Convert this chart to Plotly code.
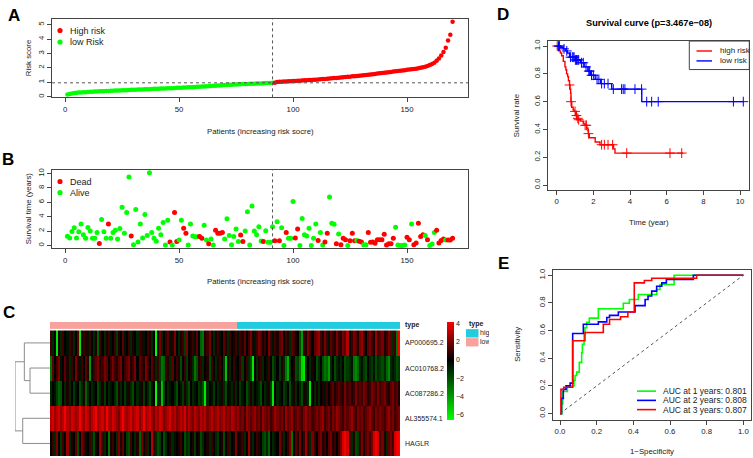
import plotly.graph_objects as go

W, H = 753, 458
def fx(p): return p / W
def fy(p): return 1 - p / H

FONT = "Liberation Sans, Arial, Helvetica, sans-serif"
RED = "#FF0000"; GREEN = "#00FF00"; BLUE = "#0000FF"; AX = "#444444"

# ---------------- data ----------------
risk_low = [0.15, 0.19, 0.22, 0.25, 0.27, 0.28, 0.29, 0.30, 0.31, 0.33,
            0.34, 0.34, 0.35, 0.36, 0.37, 0.38, 0.38, 0.39, 0.40, 0.41,
            0.41, 0.42, 0.43, 0.43, 0.44, 0.45, 0.45, 0.46, 0.47, 0.48,
            0.48, 0.49, 0.50, 0.50, 0.51, 0.52, 0.52, 0.53, 0.54, 0.55,
            0.55, 0.56, 0.57, 0.57, 0.58, 0.59, 0.59, 0.60, 0.61, 0.62,
            0.62, 0.63, 0.64, 0.65, 0.65, 0.66, 0.67, 0.68, 0.69, 0.70,
            0.71, 0.72, 0.73, 0.74, 0.75, 0.76, 0.77, 0.78, 0.79, 0.80,
            0.81, 0.82, 0.83, 0.84, 0.85, 0.86, 0.86, 0.87, 0.88, 0.88,
            0.89, 0.90, 0.90, 0.91, 0.92, 0.92, 0.93, 0.94, 0.95, 0.95,
            0.96, 0.97]
risk_high = [1.02, 1.03, 1.04, 1.05, 1.06, 1.07, 1.07, 1.08, 1.09, 1.10,
             1.11, 1.12, 1.13, 1.14, 1.15, 1.16, 1.17, 1.18, 1.19, 1.21,
             1.22, 1.23, 1.25, 1.26, 1.27, 1.29, 1.30, 1.32, 1.33, 1.35,
             1.36, 1.38, 1.39, 1.41, 1.42, 1.44, 1.45, 1.47, 1.49, 1.50,
             1.52, 1.54, 1.56, 1.58, 1.60, 1.62, 1.64, 1.66, 1.68, 1.70,
             1.72, 1.74, 1.76, 1.78, 1.80, 1.82, 1.84, 1.86, 1.88, 1.90,
             1.92, 1.94, 1.97, 2.00, 2.04, 2.08, 2.13, 2.19, 2.26, 2.36,
             2.50, 2.65, 2.85, 3.10, 3.40, 3.90, 4.30, 5.20]
risk_score = risk_low + risk_high
risk_cutoff = 0.96
n_pat = len(risk_score)
patients = list(range(1, n_pat + 1))
group = [1 if r > risk_cutoff else 0 for r in risk_score]   # 1 = high risk
n_low = group.count(0)

surv_time = [1.27, 1.04, 1.95, 2.45, 1.04, 1.9, 3.0, 1.5, 1.0, 2.5,
             2.0, 1.0, 1.0, 1.8, 0.27, 3.6, 1.9, 1.0, 3.0, 1.0,
             1.8, 2.1, 0.9, 2.35, 5.3, 1.7, 4.6, 9.5, 1.3, 0.1,
             5.0, 0.5, 3.0, 1.05, 4.3, 1.4, 10.1, 1.8, 1.0, 0.6,
             2.4, 1.5, 3.2, 0.05, 3.5, 0.5, 0.05, 4.6, 0.55, 0.75,
             3.5, 2.4, 1.7, 0.05, 3.0, 1.3, 1.2, 1.2, 1.25, 1.0,
             2.8, 0.75, 0.25, 0.9, 0.05, 2.1, 1.7, 1.7, 1.8, 0.9,
             3.7, 1.4, 0.1, 1.25, 2.3, 0.55, 1.45, 0.55, 2.0, 4.7,
             0.05, 5.5, 2.0, 1.5, 2.6, 0.63, 0.55, 2.05, 0.45, 0.45,
             2.6, 0.65, 3.3, 0.65, 2.45, 0.0, 1.8, 1.0, 1.0, 6.1,
             1.05, 2.3, 0.0, 3.75, 1.5, 1.3, 2.4, 0.0, 1.0, 3.0,
             0.7, 1.8, 0.05, 0.5, 1.7, 6.75, 3.1, 2.95, 0.25, 1.6,
             0.1, 1.0, 0.8, 0.0, 0.65, 1.7, 0.65, 0.7, 0.6, 0.5,
             0.1, 0.1, 1.8, 0.45, 0.5, 0.3, 0.8, 0.8, 0.8, 1.55,
             0.05, 0.25, 0.25, 1.0, 2.55, 0.05, 0.0, 0.0, 0.05, 1.15,
             0.8, 3.0, 0.1, 0.35, 3.1, 1.25, 1.5, 1.4, 0.8, 0.0,
             0.2, 1.8, 2.1, 0.35, 0.7, 0.9, 0.75, 0.75, 0.75, 1.0]
surv_status = [0, 0, 0, 0, 0, 0, 0, 0, 0, 0,
               0, 0, 0, 0, 1, 0, 0, 0, 1, 0,
               0, 0, 0, 0, 0, 0, 0, 0, 1, 0,
               0, 0, 0, 0, 0, 0, 0, 0, 0, 0,
               0, 0, 0, 0, 0, 1, 0, 1, 1, 0,
               0, 1, 1, 0, 0, 0, 0, 0, 1, 1,
               0, 0, 1, 0, 0, 1, 1, 1, 1, 0,
               0, 0, 0, 0, 0, 0, 1, 1, 0, 0,
               0, 0, 0, 0, 0, 0, 1, 0, 0, 0,
               0, 1, 0, 1, 0, 0, 1, 0, 0, 0,
               1, 1, 0, 0, 0, 0, 0, 0, 0, 0,
               1, 0, 0, 1, 1, 0, 0, 0, 1, 0,
               1, 1, 1, 0, 1, 1, 1, 0, 1, 1,
               0, 0, 1, 1, 1, 1, 1, 1, 1, 1,
               1, 1, 1, 1, 0, 0, 0, 0, 0, 1,
               1, 0, 1, 1, 1, 1, 1, 0, 1, 0,
               0, 0, 1, 1, 1, 1, 0, 1, 1, 1]

genes = ["AP000695.2", "AC010768.2", "AC087286.2", "AL355574.1", "HAGLR"]
expr_AP000695 = [1, -1, 0, -6, 0.5, -1, 1, 0, -0.5, 1,
                 0.5, -1, 0, 1.5, -6, 0, 1, 0.5, -0.5, 1,
                 0, -1, 0.5, -2.5, 1, 0, -1, 0.5, 1, -0.5,
                 0, 1, -1.5, 0.5, 0, 1.5, -0.5, 0, 1, -1,
                 0.5, 0, -1, 1, 0.5, -0.5, 0, 1, 0.5, -1,
                 0, -6.5, 0.5, 2, -1, 0, 1, 1.5, -0.5, 0.5,
                 2, 0, -1, 0.5, 1, -1.5, 2, 0, 0.5, 1,
                 -0.5, 1.5, 0, -2.5, -3, 0.5, 1, 2, 0, -1,
                 0.5, 1, -0.5, 0, 1.5, 0.5, -1, 1, 0, 0.5,
                 1, -0.5, 1, 0.5, 1.5, 0, 1, 2, 0.5, -0.5,
                 1, 2, 1.5, 0.5, 1, 0, 2, 1, -0.5, 1,
                 0.5, 1.5, 2, 0, 1, 0.5, -1, 1.5, 1, 0.5,
                 0, -2, -4, 1, 0.5, 2, 1, 0, 1.5, 2,
                 2.5, 1, 0.5, 2, 1, -0.5, 1.5, 1, 0.5, 2,
                 1, 0.5, 2, 1.5, 3, 0, 1, 2, 1.5, 0.5,
                 2, 2.5, 1, 0, 1.5, 2, 1, 0.5, 2.5, 1,
                 1.5, 2, 0.5, 1, 2, 1.5, -1, 1, -3, 4]
expr_AC010768 = [-3, 1.5, 0, 1, 2, -0.5, 0, 1.5, 0.5, -1,
                 1, 0, 2, 0.5, -0.5, 1, 0, 1.5, 0.5, -4,
                 0, 1, 1.5, 2, 0.5, 1, 2, 1.5, 0, 1,
                 2, 1, 0.5, 1.5, 2, 0, 1, 1.5, 2, 0.5,
                 1, 2, 0, 1.5, 1, 0.5, 2, 1, 0, 1.5,
                 0.5, -1, 1, -1.5, -3, -2.5, 1, 0.5, -1, 1.5,
                 0, 1, 0.5, -2, 0, 1, -1.5, 0, 0.5, -1,
                 -3, -2, 0.5, 1, -1, 0, 0.5, -2, 1, 0,
                 -1, 0.5, 1, 0, -1.5, -5, 0.5, -1, 0, 1,
                 -0.5, 0, 1, -1.5, 0, 1, -1, -2, -6, 0,
                 -1, 0.5, 1, -1, 0, -0.5, 1, 0, -2, -1,
                 0, -1.5, 0.5, -1, -3, -4.5, -1, 0, 0.5, -2,
                 -1.5, -3, -5.5, -6, -1, 0, -1, 0.5, 0, -2,
                 -1, 0, -2, -3, -2.5, -4, -1, 0, -2, -1,
                 -0.5, -1, 0, -2, -1.5, -1, -0.5, -3, -3.5, -2.5,
                 -1, -0.5, -1.5, -2, 0, -1, -1.5, -0.5, -2, -1,
                 -1.5, -2, -1, -2.5, -3.5, -1, -0.5, -1, -2, -1.5]
expr_AC087286 = [-1, 0, -0.5, -1.5, -2.5, -2, 0, -1, 0.5, -1,
                 0, -1.5, -0.5, 0, -2, -1, 0.5, -2.5, -1, 0,
                 -1, -0.5, 0, -2, -1, 0.5, -1.5, 0, -1, -0.5,
                 0, -1, -2, 0.5, -1, 0, -1.5, -0.5, 0.5, -1,
                 -2, 0, -1, -0.5, 0.5, -1.5, 0, -1, -2, -0.5,
                 0, -6.5, -0.5, -1, -5, -1.5, 0, -1, -0.5, 0,
                 -1, -2, 0, -0.5, -1.5, 0.5, -1, -2, 0, -1,
                 -0.5, 0, -1.5, -1, -2, -6, -1, 0, -0.5, -1.5,
                 0, -1, -0.5, 0.5, -1, -2, 0, -0.5, -1, 0.5,
                 -1, 0, -1.5, -0.5, 0, -2, -1, 0.5, -1, 0,
                 -0.5, -1, -2, 0, -1, -0.5, 0.5, -1.5, -6, 0,
                 -1, -0.5, 0, -1.5, -1, 0, -2, -0.5, 0.5, -1,
                 0, -1, -2, 0.5, -0.5, -1, -6, 0, -1, 0.5,
                 -1, 0, 0.5, -0.5, 1, 0, 1, 1.5, 0.5, 1,
                 1.5, 1, 0.5, 2, 1, 1.5, 0.5, 1, 2, 1,
                 1.5, 1, 2, 1.5, 0.5, 1, 2, 1.5, 1, 2,
                 1, 1.5, 2, 1, 0.5, 1.5, 2, 1, 1.5, 0.5]
expr_AL355574 = [3, 3.5, 2.5, 3, 3.5, 2.5, 3, 4, 3, 2.5,
                 3.5, 3, 2.5, 3, 4, 3, 2.5, 3.5, 3, 2,
                 3, 3.5, 4, 2.5, 3, 3.5, 2.5, 4, 3, 2.5,
                 3.5, 3, 2.5, 2, 3, 4, 3, 2.5, 3, 3.5,
                 2.5, 3, 3.5, 2, 3, 4, 2.5, 3, 3.5, 2.5,
                 2, 3, 2.5, 3.5, 3, 2, 2.5, 3, 3.5, 2.5,
                 3, 2, 2.5, 3, 2.5, 3.5, 2, 3, 2.5, 2,
                 3, 2.5, 2, 3, 2.5, 3, 2, 2.5, 3, 2,
                 2.5, 3, 2, 2.5, 3, 2, 2.5, 2, 3, 2.5,
                 2, 2.5, 1.5, 2, 1, 2.5, 2, 1.5, 2, 2.5,
                 1.5, 2, 1, 2.5, 2, 1.5, 2, 1, 1.5, 2.5,
                 2, 1.5, 2, 1, 2.5, 1.5, 2, 2.5, 1, 1.5,
                 2, 1.5, 1, 2, 2.5, 1.5, 2, 1, 1.5, 2,
                 1.5, 2, 2.5, 1, 1.5, 2, 1, 2, 1.5, 2.5,
                 2, 1.5, 1, 2, 1.5, 2, 2.5, 1.5, 1, 2,
                 1.5, 2, 1, 1.5, 2, 2.5, 1.5, 1, 2, 1.5,
                 2, 1.5, 1, 2, 2.5, 1.5, 2, 1, 1.5, 2]
expr_HAGLR = [0, 1, -1, 2, 0, -1.5, 1, 0, 2.5, -1,
              0.5, 0, 1.5, -2, 0, 2, 1, -0.5, 0, 1,
              -1, -2, 0.5, 0, 2.5, 1, -1, 0, -3, 0.5,
              1, 0, -1, 2, 0.5, 1.5, 0, -1.5, -2, 1,
              0, -1, 0.5, -2.5, 2, 0, 1, -1, 0, 3,
              0.5, -1, -2, -1.5, 0, -2, -1, 0, 0.5, -1,
              -0.5, 0, 0.5, 1, 0, -2, -1, -1.5, 0, 0.5,
              -1.5, 0, 0.5, -2, -1, 0, 0.5, -1, 1, 0,
              -1, -1.5, 0, 0.5, -2, 0, 1, -1, 0, 0.5,
              2, 0, 0.5, 1, -1, 0, 2.5, 0.5, -1, 0,
              1, 0.5, 0, -1.5, -2, -1, -2.5, 0, -1, -0.5,
              0, 2, 0.5, -1, 0, 1, 2, -3, 0, 1.5,
              0.5, 2, 0, 1, 2.5, 0.5, -1, 2, 1, 0,
              1.5, 2, 0.5, 1, 0, 1.5, 2, 0.5, 1, 0,
              1, 2, 3.5, 4, 3.5, 1, -1, 0.5, -2, -1.5,
              1, 2, 0.5, 1.5, 2, 1, 2, 3.5, 4, 3.5,
              1, 2, 0.5, -1, 1.5, 2, 1, 3.5, 4, 4.5]
expr = [expr_AP000695, expr_AC010768, expr_AC087286, expr_AL355574, expr_HAGLR]
dend_merge = [[-2, -3], [-1, 1], [-4, -5], [2, 3]]
dend_height = [2.74, 3.52, 3.74, 4.80]

km_high_t = [0, 0.05, 0.1, 0.2, 0.27, 0.36, 0.45, 0.5, 0.54, 0.6, 0.64, 0.7, 0.73, 0.76,
             0.78, 0.82, 0.9, 0.95, 1.04, 1.1, 1.18, 1.3, 1.45, 1.55, 1.64, 1.7, 1.73,
             1.78, 2.1, 2.36, 3.1, 3.18, 6.9]
km_high_s = [1.0, 0.98, 0.965, 0.95, 0.93, 0.89, 0.85, 0.83, 0.8, 0.78, 0.75, 0.72, 0.69, 0.66,
             0.6, 0.56, 0.54, 0.53, 0.5, 0.48, 0.47, 0.46, 0.44, 0.43, 0.41, 0.39, 0.37,
             0.34, 0.31, 0.29, 0.26, 0.23, 0.23]
km_high_cens = [0.03, 0.7, 0.78, 1.0, 1.08, 1.15, 1.2, 1.55, 1.62, 1.73, 2.45, 2.6, 2.8, 3.05, 3.82, 6.18, 6.82]
km_low_t = [0, 0.2, 0.36, 0.5, 0.58, 0.7, 1.0, 1.3, 1.5, 1.7, 1.85, 2.1, 2.4, 3.0, 4.64, 10.18]
km_low_s = [1.0, 0.99, 0.98, 0.965, 0.95, 0.92, 0.9, 0.88, 0.85, 0.82, 0.79, 0.76, 0.73, 0.69, 0.60, 0.60]
km_low_cens = [0.1, 0.15, 0.4, 0.55, 0.75, 0.85, 0.9, 0.95, 1.02, 1.08, 1.15, 1.2, 1.35, 1.45, 1.6,
               1.75, 1.8, 1.9, 2.0, 2.2, 2.3, 2.45, 2.6, 2.8, 3.09, 3.54, 3.63, 3.72, 4.27,
               4.63, 4.91, 5.18, 5.54, 9.64, 10.18]
km_pvalue = "3.467e\u221208"

roc1_fpr = [0, 0.01, 0.01, 0.015, 0.015, 0.04, 0.04, 0.076, 0.076, 0.082, 0.082, 0.091, 0.091, 0.105,
            0.105, 0.118, 0.118, 0.122, 0.122, 0.131, 0.131, 0.136, 0.136, 0.145, 0.145, 0.16, 0.16,
            0.209, 0.209, 0.345, 0.345, 0.378, 0.378, 0.427, 0.427, 0.527, 0.527, 0.545, 0.545,
            0.622, 0.622, 1.0]
roc1_tpr = [0, 0, 0.07, 0.07, 0.16, 0.16, 0.2, 0.2, 0.24, 0.24, 0.275, 0.275, 0.30, 0.30,
            0.37, 0.37, 0.44, 0.44, 0.50, 0.50, 0.57, 0.57, 0.62, 0.62, 0.66, 0.66, 0.69,
            0.69, 0.758, 0.758, 0.797, 0.797, 0.825, 0.825, 0.861, 0.861, 0.897, 0.897, 0.933,
            0.933, 1.0, 1.0]
roc2_fpr = [0, 0.008, 0.008, 0.018, 0.018, 0.033, 0.033, 0.055, 0.055, 0.069, 0.069, 0.127, 0.127,
            0.209, 0.209, 0.255, 0.255, 0.27, 0.27, 0.318, 0.318, 0.409, 0.409, 0.464, 0.464,
            0.48, 0.48, 0.5, 0.5, 0.527, 0.527, 0.555, 0.555, 0.58, 0.58, 0.727, 0.727, 1.0]
roc2_tpr = [0, 0, 0.11, 0.11, 0.175, 0.175, 0.2, 0.2, 0.22, 0.22, 0.579, 0.579, 0.646,
            0.646, 0.663, 0.663, 0.694, 0.694, 0.71, 0.71, 0.734, 0.734, 0.78, 0.78, 0.825,
            0.825, 0.85, 0.85, 0.885, 0.885, 0.92, 0.92, 0.945, 0.945, 0.97, 0.97, 1.0, 1.0]
roc3_fpr = [0, 0.005, 0.005, 0.02, 0.02, 0.069, 0.069, 0.136, 0.136, 0.236, 0.236, 0.27, 0.27,
            0.33, 0.33, 0.37, 0.37, 0.405, 0.405, 0.46, 0.46, 0.5, 0.5, 0.745, 0.745, 1.0]
roc3_tpr = [0, 0, 0.175, 0.175, 0.19, 0.19, 0.526, 0.526, 0.586, 0.586, 0.646, 0.646, 0.68,
            0.68, 0.70, 0.70, 0.734, 0.734, 0.945, 0.945, 0.962, 0.962, 0.978, 0.978, 1.0, 1.0]
auc_labels = ["AUC at 1 years: 0.801", "AUC at 2 years: 0.808", "AUC at 3 years: 0.807"]

# ---------------- figure ----------------
fig = go.Figure()
def axis_style(**kw):
    d = dict(showline=True, mirror=True, linecolor=AX, linewidth=1, ticks="outside",
             ticklen=4, tickcolor=AX, tickwidth=1, showgrid=False, zeroline=False,
             tickfont=dict(family=FONT, size=7.8, color="#222"))
    d.update(kw)
    return d

# Panel A
fig.add_trace(go.Scatter(x=patients, y=risk_score, mode="markers", xaxis="x", yaxis="y",
                         marker=dict(size=4.5, color=[RED if g else GREEN for g in group]),
                         showlegend=False, hoverinfo="skip"))
# Panel B
fig.add_trace(go.Scatter(x=patients, y=surv_time, mode="markers", xaxis="x2", yaxis="y2",
                         marker=dict(size=5, color=[RED if s else GREEN for s in surv_status]),
                         showlegend=False, hoverinfo="skip"))

# Panel C heatmap
zmin, zmax = -6.6, 4.2
fig.add_trace(go.Heatmap(z=expr, x=patients, y=list(range(len(genes))), xaxis="x3", yaxis="y3",
                         zmin=zmin, zmax=zmax,
                         colorscale=[[0, "#00FF00"], [(0 - zmin) / (zmax - zmin), "#000000"], [1, "#FF0000"]],
                         colorbar=dict(x=fx(446.5), xanchor="left", y=fy(321), yanchor="top",
                                       len=98, lenmode="pixels", thickness=7, thicknessmode="pixels",
                                       xpad=0, ypad=0, outlinewidth=0, tickvals=[4, 2, 0, -2, -4, -6],
                                       ticks="", tickfont=dict(family=FONT, size=7, color="#222")),
                         hoverinfo="skip"))
fig.add_trace(go.Heatmap(z=[group], x=patients, y=[0], xaxis="x4", yaxis="y4", zmin=0, zmax=1,
                         colorscale=[[0, "#F8A29E"], [0.5, "#F8A29E"], [0.5, "#20CCDD"], [1, "#20CCDD"]],
                         showscale=False, hoverinfo="skip"))
# dendrogram
pos = {}
dx, dy = [], []
def child(c):
    if c < 0:
        return -c - 1, 0.0
    return pos[c - 1], dend_height[c - 1]
for i, (a, b) in enumerate(dend_merge):
    ya, ha = child(a); yb, hb = child(b); h = dend_height[i]
    dx += [ha, h, h, hb, None]; dy += [ya, ya, yb, yb, None]
    pos[i] = (ya + yb) / 2
fig.add_trace(go.Scatter(x=dx, y=dy, mode="lines", xaxis="x8", yaxis="y8",
                         line=dict(color="#8C8C8C", width=1), showlegend=False, hoverinfo="skip"))

# Panel D
def step_at(ts, ss, t):
    v = ss[0]
    for a, b in zip(ts, ss):
        if a <= t: v = b
    return v
for ts, ss, cens, col in [(km_high_t, km_high_s, km_high_cens, RED), (km_low_t, km_low_s, km_low_cens, BLUE)]:
    fig.add_trace(go.Scatter(x=ts, y=ss, mode="lines", line=dict(color=col, width=1.4, shape="hv"),
                             xaxis="x5", yaxis="y5", showlegend=False, hoverinfo="skip"))
    fig.add_trace(go.Scatter(x=cens, y=[step_at(ts, ss, t) for t in cens], mode="markers",
                             marker=dict(symbol="cross-thin", size=7, line=dict(color=col, width=1)),
                             xaxis="x5", yaxis="y5", showlegend=False, hoverinfo="skip"))
# Panel E
fig.add_shape(type="line", xref="x6", yref="y6", x0=0, y0=0, x1=1, y1=1,
              line=dict(color="#555", width=1, dash="dot"))
for fp, tp, col in [(roc1_fpr, roc1_tpr, GREEN), (roc2_fpr, roc2_tpr, BLUE), (roc3_fpr, roc3_tpr, RED)]:
    fig.add_trace(go.Scatter(x=fp, y=tp, mode="lines", line=dict(color=col, width=1.6),
                             xaxis="x6", yaxis="y6", showlegend=False, hoverinfo="skip"))

# clipped legend text for heatmap "type" legend
fig.add_trace(go.Scatter(x=[480, 480], y=[332.5, 341.5], text=["high", "low"], mode="text",
                         textposition="middle right", textfont=dict(family=FONT, size=7, color="#222"),
                         xaxis="x7", yaxis="y7", cliponaxis=True, showlegend=False, hoverinfo="skip"))

padA = 0.04 * (n_pat - 1)
xr = [1 - padA, n_pat + padA]
rmin, rmax = min(risk_score), max(risk_score)
smin, smax = min(surv_time), max(surv_time)
fig.update_layout(
    width=W, height=H, margin=dict(l=0, r=0, t=0, b=0), plot_bgcolor="rgba(0,0,0,0)", paper_bgcolor="white",
    font=dict(family=FONT, color="#222"),
    xaxis=axis_style(domain=[fx(52), fx(468)], range=xr, tickvals=[0, 50, 100, 150], anchor="y"),
    yaxis=axis_style(domain=[fy(95), fy(16)], range=[rmin - 0.04 * (rmax - rmin), rmax + 0.04 * (rmax - rmin)],
                     tickvals=[0, 1, 2, 3, 4, 5], tickangle=-90, anchor="x"),
    xaxis2=axis_style(domain=[fx(52), fx(468)], range=xr, tickvals=[0, 50, 100, 150], anchor="y2"),
    yaxis2=axis_style(domain=[fy(247), fy(168)], range=[smin - 0.04 * (smax - smin), smax + 0.04 * (smax - smin)],
                      tickvals=[0, 2, 4, 6, 8, 10], tickangle=-90, anchor="x2"),
    xaxis3=dict(domain=[fx(50), fx(400)], range=[0.5, n_pat + 0.5], visible=False, anchor="y3"),
    yaxis3=dict(domain=[fy(456), fy(329.5)], range=[len(genes) - 0.5, -0.5], visible=False, anchor="x3"),
    xaxis4=dict(domain=[fx(50), fx(400)], range=[0.5, n_pat + 0.5], visible=False, anchor="y4"),
    yaxis4=dict(domain=[fy(328.3), fy(321)], range=[-0.5, 0.5], visible=False, anchor="x4"),
    xaxis5=axis_style(domain=[fx(548.3), fx(749.3)], range=[-0.458, 10.507], tickvals=[0, 2, 4, 6, 8, 10], anchor="y5"),
    yaxis5=axis_style(domain=[fy(188.3), fy(38.3)], range=[-0.036, 1.036], tickvals=[0, 0.2, 0.4, 0.6, 0.8, 1.0],
                      tickformat=".1f", tickangle=-90, anchor="x5"),
    xaxis6=axis_style(domain=[fx(552.7), fx(750.7)], range=[-0.04, 1.04], tickvals=[0, 0.2, 0.4, 0.6, 0.8, 1.0],
                      tickformat=".1f", anchor="y6"),
    yaxis6=axis_style(domain=[fy(419.3), fy(268.3)], range=[-0.043, 1.041], tickvals=[0, 0.2, 0.4, 0.6, 0.8, 1.0],
                      tickformat=".1f", tickangle=-90, anchor="x6"),
    xaxis7=dict(domain=[0, fx(489)], range=[0, 489], visible=False, anchor="y7"),
    yaxis7=dict(domain=[0, 1], range=[H, 0], visible=False, anchor="x7"),
    xaxis8=dict(domain=[fx(15), fx(50)], range=[max(dend_height), 0], visible=False, anchor="y8"),
    yaxis8=dict(domain=[fy(456), fy(329.5)], range=[len(genes) - 0.5, -0.5], visible=False, anchor="x8"),
)

ann = []
def T(x, y, s, size=7.8, bold=False, xa="center", angle=0, color="#222"):
    ann.append(dict(xref="paper", yref="paper", x=fx(x), y=fy(y), text=("<b>%s</b>" % s) if bold else s,
                    showarrow=False, xanchor=xa, yanchor="middle", textangle=angle,
                    font=dict(family=FONT, size=size, color=color)))
# panel letters
for L, x, y in [("A", 14, 12.5), ("B", 8, 158), ("C", 9, 312), ("D", 502.5, 12), ("E", 504, 262)]:
    T(x, y, L, size=17, bold=True, color="#000")
# A / B titles
T(260, 129, "Patients (increasing risk socre)")
T(28, 55.5, "Risk score", angle=-90)
T(260, 280.7, "Patients (increasing risk socre)")
T(28, 207.5, "Survival time (years)", angle=-90)
# A / B legends
shapes = []
def dot(x, y, col, r=2.6):
    shapes.append(dict(type="circle", xref="paper", yref="paper", x0=fx(x - r), x1=fx(x + r),
                       y0=fy(y + r), y1=fy(y - r), fillcolor=col, line=dict(width=0)))
dot(60, 27.7, RED); T(68.3, 27.7, "High risk", size=9, xa="left")
dot(60, 39.3, GREEN); T(68.3, 39.3, "low Risk", size=9, xa="left")
dot(60, 179.7, RED); T(68.3, 179.7, "Dead", size=9, xa="left")
dot(60, 190.9, GREEN); T(68.3, 190.9, "Alive", size=9, xa="left")
# dashed lines A/B
shapes.append(dict(type="line", xref="x", yref="paper", x0=n_low, x1=n_low, y0=fy(95), y1=fy(16),
                   line=dict(color="#555", width=1, dash="3px,3px")))
shapes.append(dict(type="line", xref="paper", yref="y", x0=fx(52), x1=fx(468), y0=risk_cutoff, y1=risk_cutoff,
                   line=dict(color="#555", width=1, dash="3px,3px")))
shapes.append(dict(type="line", xref="x2", yref="paper", x0=n_low, x1=n_low, y0=fy(247), y1=fy(168),
                   line=dict(color="#555", width=1, dash="3px,3px")))
# heatmap labels
row_h = (456 - 329.5) / len(genes)
for i, g in enumerate(genes):
    T(403, 329.5 + row_h * (i + 0.5), g, size=7, xa="left")
T(403, 324.5, "type", size=7, bold=True, xa="left")
T(466.5, 323.5, "type", size=7, bold=True, xa="left")
shapes.append(dict(type="rect", xref="paper", yref="paper", x0=fx(466), x1=fx(478.5), y0=fy(336.7), y1=fy(328.3),
                   fillcolor="#20CCDD", line=dict(width=0)))
shapes.append(dict(type="rect", xref="paper", yref="paper", x0=fx(466), x1=fx(478.5), y0=fy(345.7), y1=fy(337.3),
                   fillcolor="#F8A29E", line=dict(width=0)))
# D annotations
T(648.8, 20, "Survival curve (p=%s)" % km_pvalue, size=9.2, bold=True, color="#000")
T(648.8, 221, "Time (year)")
T(516.7, 113.3, "Survival rate", angle=-90)
shapes.append(dict(type="rect", xref="paper", yref="paper", x0=fx(689.3), x1=fx(749.3), y0=fy(67), y1=fy(38.3),
                   line=dict(color=AX, width=1), fillcolor="rgba(0,0,0,0)"))
for y, col, s in [(48.3, RED, "high risk"), (58.3, BLUE, "low risk")]:
    shapes.append(dict(type="line", xref="paper", yref="paper", x0=fx(696.5), x1=fx(712), y0=fy(y), y1=fy(y),
                       line=dict(color=col, width=1.4)))
    T(717.5, y, s, size=8, xa="left")
# E annotations
T(651.7, 451.7, "1\u2212Specificity")
T(517.3, 343.8, "Sensitivity", angle=-90)
for y, col, s in [(390.7, GREEN, auc_labels[0]), (400, BLUE, auc_labels[1]), (409.3, RED, auc_labels[2])]:
    shapes.append(dict(type="line", xref="paper", yref="paper", x0=fx(637), x1=fx(656), y0=fy(y), y1=fy(y),
                       line=dict(color=col, width=1.6)))
    T(661.2, y, s, size=8.5, xa="left")

fig.update_layout(annotations=ann, shapes=fig.layout.shapes + tuple(shapes))
fig.write_html("out.html", config={"displayModeBar": False},
               post_script="document.body.style.margin='0';document.body.style.padding='0';")
